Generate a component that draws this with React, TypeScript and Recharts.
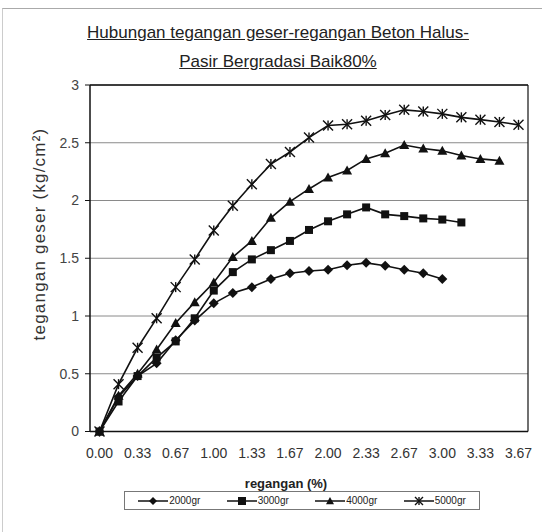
import React from 'react';
import { LineChart, Line, XAxis, YAxis, CartesianGrid, ReferenceLine } from 'recharts';

// strain (%) categories, every 1/6 %
const strain = [
  '0.00', '0.17', '0.33', '0.50', '0.67', '0.83', '1.00', '1.17', '1.33', '1.50', '1.67', '1.83',
  '2.00', '2.17', '2.33', '2.50', '2.67', '2.83', '3.00', '3.17', '3.33', '3.50', '3.67',
];

// shear stress (kg/cm2) per load
const load2000 = [0, 0.3, 0.48, 0.59, 0.79, 0.96, 1.11, 1.2, 1.25, 1.32, 1.37, 1.39, 1.4, 1.44, 1.46, 1.435, 1.4, 1.37, 1.32];
const load3000 = [0, 0.26, 0.48, 0.64, 0.78, 0.98, 1.22, 1.38, 1.49, 1.57, 1.65, 1.745, 1.82, 1.88, 1.94, 1.88, 1.865, 1.845, 1.835, 1.81];
const load4000 = [0, 0.31, 0.5, 0.71, 0.94, 1.12, 1.29, 1.51, 1.65, 1.85, 1.99, 2.1, 2.2, 2.26, 2.36, 2.41, 2.48, 2.45, 2.43, 2.39, 2.36, 2.345];
const load5000 = [0, 0.41, 0.725, 0.98, 1.25, 1.49, 1.74, 1.955, 2.14, 2.315, 2.42, 2.545, 2.65, 2.66, 2.69, 2.74, 2.785, 2.77, 2.75, 2.72, 2.7, 2.68, 2.655];

const yTicks = [0, 0.5, 1, 1.5, 2, 2.5, 3];
const seriesNames = ['2000gr', '3000gr', '4000gr', '5000gr'];

const data = strain.map((s, i) => ({
  strain: s,
  g2000: load2000[i] ?? null,
  g3000: load3000[i] ?? null,
  g4000: load4000[i] ?? null,
  g5000: load5000[i] ?? null,
}));

const FONT = "Arial, 'Liberation Sans', sans-serif";
const INK = '#111';

type MarkProps = { cx: number; cy: number; s?: number };

const Diamond = ({ cx, cy, s = 5 }: MarkProps) => (
  <path d={`M${cx},${cy - s}L${cx + s},${cy}L${cx},${cy + s}L${cx - s},${cy}Z`} fill={INK} />
);
const Square = ({ cx, cy, s = 4 }: MarkProps) => (
  <rect x={cx - s} y={cy - s} width={s * 2} height={s * 2} fill={INK} />
);
const Triangle = ({ cx, cy, s = 5 }: MarkProps) => (
  <path d={`M${cx},${cy - s}L${cx + s},${cy + s * 0.8}L${cx - s},${cy + s * 0.8}Z`} fill={INK} />
);
const Star = ({ cx, cy, s = 5 }: MarkProps) => (
  <g stroke={INK} strokeWidth={1.4} fill="none">
    <path d={`M${cx - s},${cy - s}L${cx + s},${cy + s}M${cx + s},${cy - s}L${cx - s},${cy + s}`} />
    <path d={`M${cx},${cy - s}L${cx},${cy + s}`} />
  </g>
);

const markers = [Diamond, Square, Triangle, Star];

const dotFor = (Mark: (p: MarkProps) => React.ReactElement) => (p: any) => {
  if (p.cy == null || p.value == null) return <g key={p.index} />;
  return <Mark key={p.index} cx={p.cx} cy={p.cy} />;
};

function LegendBox() {
  return (
    <div
      style={{
        position: 'absolute', left: 124, top: 491, width: 354, height: 17,
        border: '1px solid #777', display: 'flex', alignItems: 'center',
        justifyContent: 'space-around', fontFamily: FONT, fontSize: 10, color: '#222',
      }}
    >
      {seriesNames.map((name, i) => {
        const Mark = markers[i];
        return (
          <span key={name} style={{ display: 'flex', alignItems: 'center' }}>
            <svg width={30} height={12}>
              <line x1={0} y1={6} x2={30} y2={6} stroke={INK} strokeWidth={1.5} />
              <Mark cx={15} cy={6} s={4} />
            </svg>
            <span style={{ marginLeft: 1 }}>{name}</span>
          </span>
        );
      })}
    </div>
  );
}

export default function App() {
  const keys = ['g2000', 'g3000', 'g4000', 'g5000'];
  return (
    <div style={{ position: 'absolute', left: 0, top: 0, width: 542, height: 532, background: '#fff' }}>
      {/* outer chart frame */}
      <div style={{ position: 'absolute', left: 2, top: 8, right: 0, bottom: 0, borderTop: '1px solid #aaa', borderLeft: '1px solid #ccc' }} />
      <div
        style={{
          position: 'absolute', left: 0, top: 18, width: 556, textAlign: 'center',
          fontFamily: FONT, fontSize: 17, lineHeight: '29px', color: '#222', textDecoration: 'underline',
        }}
      >
        Hubungan tegangan geser-regangan Beton Halus-
        <br />
        Pasir Bergradasi Baik80%
      </div>
      <LineChart
        width={542}
        height={532}
        data={data}
        margin={{ top: 85, right: 0, bottom: 70.5, left: 0 }}
        style={{ position: 'absolute', left: 0, top: 0 }}
      >
        <CartesianGrid vertical={false} stroke="#8a8a8a" strokeWidth={1} />
        <XAxis
          dataKey="strain"
          interval={1}
          padding={{ left: 9.5, right: 9.5 }}
          height={30}
          tickLine={false}
          tickSize={0}
          tickMargin={17}
          axisLine={{ stroke: INK, strokeWidth: 1.5 }}
          tick={{ fontFamily: FONT, fontSize: 14, fill: '#333' }}
          label={{
            content: () => (
              <text x={286} y={488} textAnchor="middle" fontFamily={FONT} fontSize={13} fontWeight="bold" fill="#222">
                regangan (%)
              </text>
            ),
          }}
        />
        <YAxis
          domain={[0, 3]}
          ticks={yTicks}
          width={90}
          interval={0}
          tickSize={5}
          tickMargin={6}
          tickLine={{ stroke: INK }}
          axisLine={{ stroke: INK, strokeWidth: 1.5 }}
          tick={{ fontFamily: FONT, fontSize: 14, fill: '#444' }}
          label={{
            content: () => (
              <text
                x={39}
                y={234}
                transform="rotate(-90 39 234)"
                textAnchor="middle"
                dominantBaseline="central"
                fontFamily={FONT}
                fontSize={17}
                letterSpacing={1.2}
                fill="#333"
              >
                tegangan geser (kg/cm²)
              </text>
            ),
          }}
        />
        <YAxis yAxisId="frame" orientation="right" width={14} tick={false} tickLine={false} axisLine={{ stroke: INK, strokeWidth: 1.2 }} />
        <ReferenceLine y={3} stroke={INK} strokeWidth={1.5} />
        {keys.map((k, i) => (
          <Line
            key={k}
            dataKey={k}
            name={seriesNames[i]}
            type="linear"
            stroke={INK}
            strokeWidth={1.6}
            dot={dotFor(markers[i])}
            activeDot={false}
            isAnimationActive={false}
          />
        ))}
      </LineChart>
      <LegendBox />
    </div>
  );
}
